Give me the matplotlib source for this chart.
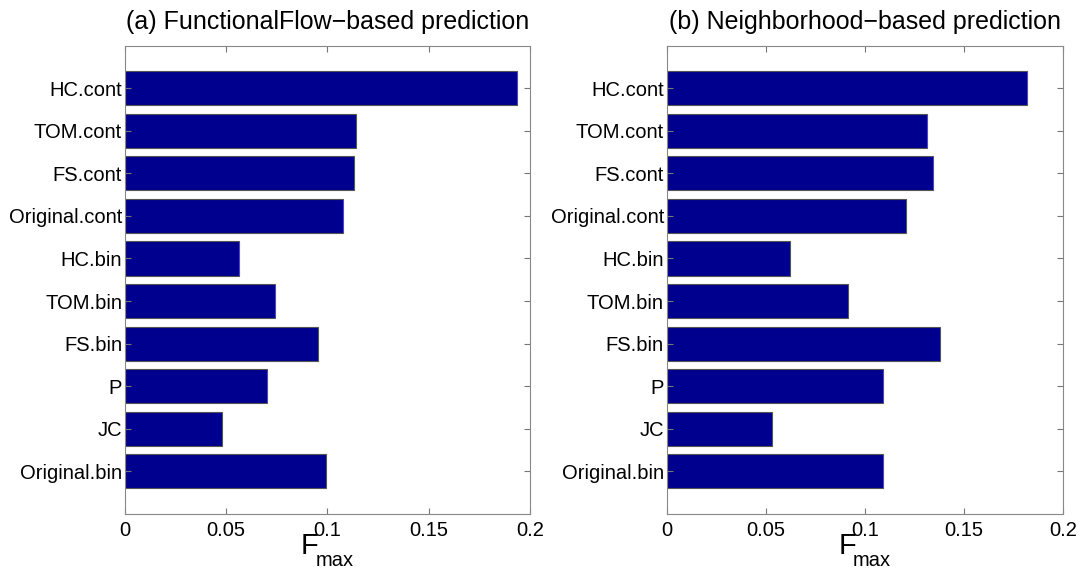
import matplotlib
matplotlib.use("Agg")
import matplotlib.pyplot as plt

plt.rcParams['font.family'] = ['Liberation Sans', 'DejaVu Sans']

# categories, top to bottom
metodos = ["HC.cont", "TOM.cont", "FS.cont", "Original.cont", "HC.bin",
           "TOM.bin", "FS.bin", "P", "JC", "Original.bin"]
flujo = [0.1936, 0.114, 0.1132, 0.1078, 0.0563, 0.0742, 0.0955, 0.070, 0.0479, 0.0994]
vecinos = [0.1817, 0.1315, 0.1342, 0.1209, 0.062, 0.0913, 0.138, 0.109, 0.0531, 0.109]
xticks = [0, 0.05, 0.1, 0.15, 0.2]
xticklabels = ["0", "0.05", "0.1", "0.15", "0.2"]

fig = plt.figure(figsize=(10.81, 5.71), dpi=100)
ax1 = fig.add_axes([0.1156, 0.0998, 0.3747, 0.8205])
ax2 = fig.add_axes([0.6168, 0.0998, 0.3666, 0.8205])

pos = list(range(1, len(metodos) + 1))
for ax, vals in [(ax1, flujo), (ax2, vecinos)]:
    ax.barh(pos, vals, height=0.8, color="#00008f", edgecolor="#555555", linewidth=0.8)
    ax.set_ylim(11, 0)
    ax.set_xlim(0, 0.2)
    ax.set_yticks(pos)
    ax.set_yticklabels(metodos, fontsize=14.5)
    ax.set_xticks(xticks)
    ax.set_xticklabels(xticklabels, fontsize=14.5)
    ax.tick_params(direction="in", length=4, top=True, right=True, color="#777777")
    ax.tick_params(axis="x", pad=5)
    ax.tick_params(axis="y", pad=2)
    for s in ax.spines.values():
        s.set_color("#888888")
    # F_max label: big F with a large subscript, like the MATLAB original
    ax.text(0.433, -0.0843, "F", fontsize=21, ha="left", va="baseline", transform=ax.transAxes)
    ax.text(0.470, -0.110, "max", fontsize=14.5, ha="left", va="baseline", transform=ax.transAxes)

fig.text(0.3029, 0.961, "(a) FunctionalFlow\u2212based prediction", fontsize=18, ha="center", va="center")
fig.text(0.8001, 0.961, "(b) Neighborhood\u2212based prediction", fontsize=18, ha="center", va="center")

plt.savefig("out.png", dpi=100)
